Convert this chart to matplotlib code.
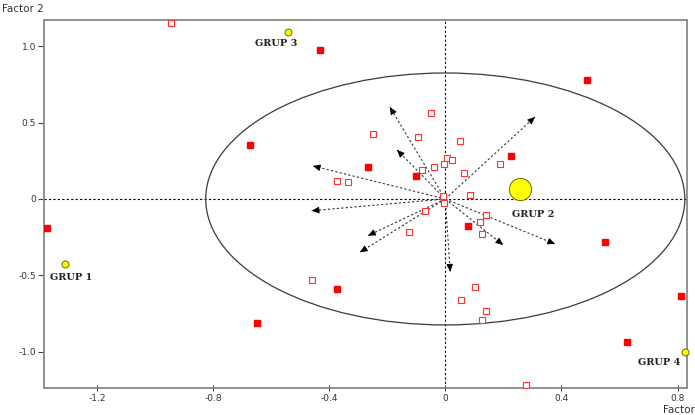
import matplotlib
matplotlib.use("Agg")
import matplotlib.pyplot as plt
from matplotlib.patches import Ellipse

# ============ data ============
# filled red squares
filled_x = [-1.370, -0.432, 0.488, -0.673, -0.266, -0.101, 0.226, 0.078,
            0.549, -0.373, -0.649, 0.812, 0.625]
filled_y = [-0.192, 0.976, 0.779, 0.352, 0.210, 0.151, 0.282, -0.177,
            -0.282, -0.589, -0.812, -0.635, -0.938]

# open red squares
open_x = [-0.946, -0.049, -0.249, -0.094, 0.051, -0.373, -0.335, 0.006,
          0.023, -0.004, -0.080, -0.039, 0.064, 0.188, 0.085, -0.007,
          -0.004, -0.070, 0.140, 0.119, 0.126, -0.124, -0.459, 0.103,
          0.055, 0.139, 0.126, 0.278]
open_y = [1.151, 0.563, 0.426, 0.406, 0.380, 0.118, 0.111, 0.268,
          0.255, 0.229, 0.190, 0.210, 0.170, 0.229, 0.026, 0.022,
          -0.024, -0.077, -0.105, -0.151, -0.229, -0.214, -0.532, -0.578,
          -0.663, -0.735, -0.794, -1.218]

# variable vectors (tips, all start at the origin)
arrow_x = [-0.191, 0.309, -0.166, -0.456, -0.460, -0.266, -0.294, 0.017, 0.199, 0.378]
arrow_y = [0.602, 0.537, 0.321, 0.216, -0.077, -0.240, -0.349, -0.476, -0.301, -0.295]

# group centroids
group_names = ["GRUP 1", "GRUP 2", "GRUP 3", "GRUP 4"]
group_x = [-1.310, 0.256, -0.541, 0.825]
group_y = [-0.424, 0.064, 1.094, -1.002]
group_size = [5, 16, 5, 5]
label_x = [-1.362, 0.230, -0.656, 0.665]
label_y = [-0.513, -0.100, 1.020, -1.069]

circle_r = 0.825

x_ticks = [-1.2, -0.8, -0.4, 0, 0.4, 0.8]
x_labels = ["-1.2", "-0.8", "-0.4", "0", "0.4", "0.8"]
y_ticks = [-1.0, -0.5, 0, 0.5, 1.0]
y_labels = ["-1.0", "-0.5", "0", "0.5", "1.0"]

# ============ figure ============
fig = plt.figure(figsize=(6.95, 4.15), dpi=100)
ax = fig.add_axes([0.0637, 0.0658, 0.925, 0.886])
ax.set_xlim(-1.381, 0.833)
ax.set_ylim(-1.236, 1.172)

# reference axes through the origin
ax.axhline(0, color="black", lw=0.8, ls=(0, (2, 2)), zorder=1)
ax.axvline(0, color="black", lw=0.8, ls=(0, (2, 2)), zorder=1)

# ellipse (circle in data units)
ax.add_patch(Ellipse((0, 0), 2 * circle_r, 2 * circle_r, fill=False,
                     edgecolor="#3a3a3a", lw=0.9, zorder=2))

# vectors
for tx, ty in zip(arrow_x, arrow_y):
    ax.plot([0, tx], [0, ty], color="#333333", lw=0.8, ls=(0, (2, 2)), zorder=3)
    ax.annotate("", xy=(tx, ty), xytext=(tx * 0.97, ty * 0.97),
                arrowprops=dict(arrowstyle="-|>,head_length=0.45,head_width=0.2",
                                color="black", lw=0.6, shrinkA=0, shrinkB=0),
                zorder=4)

# points
ax.plot(open_x, open_y, "s", ms=3.8, mfc="white", mec="#ff3030", mew=0.8,
        ls="none", zorder=5)
ax.plot(filled_x, filled_y, "s", ms=4, mfc="#ff0000", mec="#ff0000",
        ls="none", zorder=5)

for gx, gy, s in zip(group_x, group_y, group_size):
    ax.plot(gx, gy, "o", ms=s, mfc="#ffff00", mec="#6b6b00", mew=0.7,
            zorder=6, clip_on=False)

for name, lx, ly in zip(group_names, label_x, label_y):
    ax.text(lx, ly, name, fontsize=7, fontweight="bold", family="DejaVu Serif",
            color="#222222", ha="left", va="center", zorder=7)

# axes style
for sp in ax.spines.values():
    sp.set_color("#888888")
    sp.set_linewidth(1.3)

ax.set_xticks(x_ticks)
ax.set_xticklabels(x_labels)
ax.set_yticks(y_ticks)
ax.set_yticklabels(y_labels)
ax.tick_params(axis="x", direction="inout", length=5, width=0.8,
               color="#444444", labelsize=6.5, labelcolor="#333333", pad=2)
ax.tick_params(axis="y", direction="out", length=4, width=0.8,
               color="#444444", labelsize=6.5, labelcolor="#333333", pad=2)

fig.text(0.003, 0.978, "Factor 2", fontsize=7.5, color="#333333",
         ha="left", va="center")
fig.text(0.9995, 0.013, "Factor", fontsize=7.5, color="#333333",
         ha="right", va="center")

fig.savefig("out.png", dpi=100)
